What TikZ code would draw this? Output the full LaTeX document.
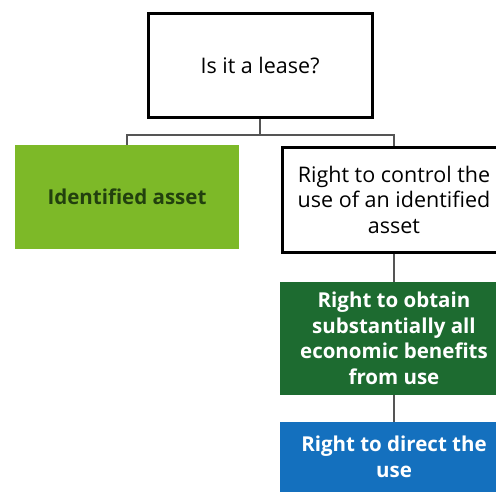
\documentclass[tikz,border=0pt]{standalone}
\usepackage{fontspec}
\setmainfont{Open Sans}
\definecolor{lightgreen}{HTML}{7DB928}
\definecolor{darkgreen}{HTML}{1D6B30}
\definecolor{blueuse}{HTML}{1470BE}
\definecolor{olivetext}{HTML}{22400E}
\definecolor{linegrey}{HTML}{555555}
\begin{document}
\begin{tikzpicture}[x=1pt,y=-1pt,
  boxbase/.style={rectangle, align=center, inner sep=0pt, font=\fontsize{21.5}{25.5}\selectfont},
  boldbox/.style={boxbase, font=\fontsize{20.5}{25.5}\selectfont\bfseries},
  outlined/.style={boxbase, draw=black, line width=3pt, fill=white},
  link/.style={draw=linegrey, line width=1.5pt}]
\useasboundingbox (0,0) rectangle (496,493);
\clip (0,0) rectangle (496,493);
\node[outlined, minimum width=224pt, minimum height=104pt] (lease) at (260,65) {Is it a lease?};
\node[boldbox, fill=lightgreen, text=olivetext, minimum width=224pt, minimum height=104pt] (ident) at (127,197) {Identified asset};
\node[outlined, minimum width=224pt, minimum height=105pt] (control) at (394,199.5) {Right to control the\\use of an identified\\asset};
\node[boldbox, fill=darkgreen, text=white, minimum width=228pt, minimum height=113pt] (obtain) at (394,338.5) {Right to obtain\\substantially all\\economic benefits\\from use};
\node[boldbox, fill=blueuse, text=white, minimum width=228pt, minimum height=70pt] (direct) at (394,457) {Right to direct the\\use};
\coordinate (split) at (260,135);
\draw[link] (lease.south) -- (split);
\draw[link] (split) -| (ident.north);
\draw[link] (split) -| (control.north);
\draw[link] (control.south) -- (obtain.north);
\draw[link] (obtain.south) -- (direct.north);
\end{tikzpicture}
\end{document}
